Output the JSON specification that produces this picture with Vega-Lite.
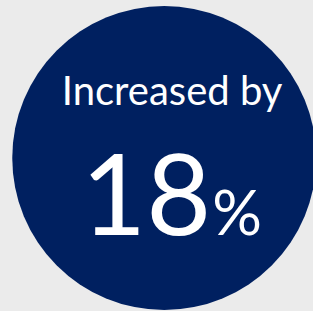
{
  "$schema": "https://vega.github.io/schema/vega-lite/v6.json",
  "autosize": {"type": "fit", "contains": "padding"},
  "width": 313,
  "height": 311,
  "padding": 0,
  "background": "#ebebeb",
  "config": {"view": {"stroke": null}},
  "datasets": {
    "circle": [{"cx": 168, "cy": 158}],
    "title": [{"label": "Increased by", "x": 176, "y": 105}],
    "value": [{"label": "18", "x": 216, "y": 235}],
    "unit": [{"label": "%", "x": 217, "y": 235}]
  },
  "layer": [
    {
      "data": {"name": "circle"},
      "mark": {"type": "point", "shape": "circle", "filled": true, "opacity": 1, "color": "#002060", "size": 92416},
      "encoding": {
        "x": {"field": "cx", "type": "quantitative", "scale": {"domain": [0, 313], "nice": false, "zero": false}, "axis": null},
        "y": {"field": "cy", "type": "quantitative", "scale": {"domain": [311, 0], "nice": false, "zero": false}, "axis": null}
      }
    },
    {
      "data": {"name": "title"},
      "mark": {"type": "text", "font": "Lato", "fontSize": 40, "color": "white", "align": "center", "baseline": "alphabetic"},
      "encoding": {
        "x": {"field": "x", "type": "quantitative"},
        "y": {"field": "y", "type": "quantitative"},
        "text": {"field": "label"}
      }
    },
    {
      "data": {"name": "value"},
      "mark": {"type": "text", "font": "Lato", "fontSize": 112, "color": "white", "align": "right", "baseline": "alphabetic"},
      "encoding": {
        "x": {"field": "x", "type": "quantitative"},
        "y": {"field": "y", "type": "quantitative"},
        "text": {"field": "label"}
      }
    },
    {
      "data": {"name": "unit"},
      "mark": {"type": "text", "font": "Lato", "fontSize": 62, "color": "white", "align": "left", "baseline": "alphabetic"},
      "encoding": {
        "x": {"field": "x", "type": "quantitative"},
        "y": {"field": "y", "type": "quantitative"},
        "text": {"field": "label"}
      }
    }
  ]
}
